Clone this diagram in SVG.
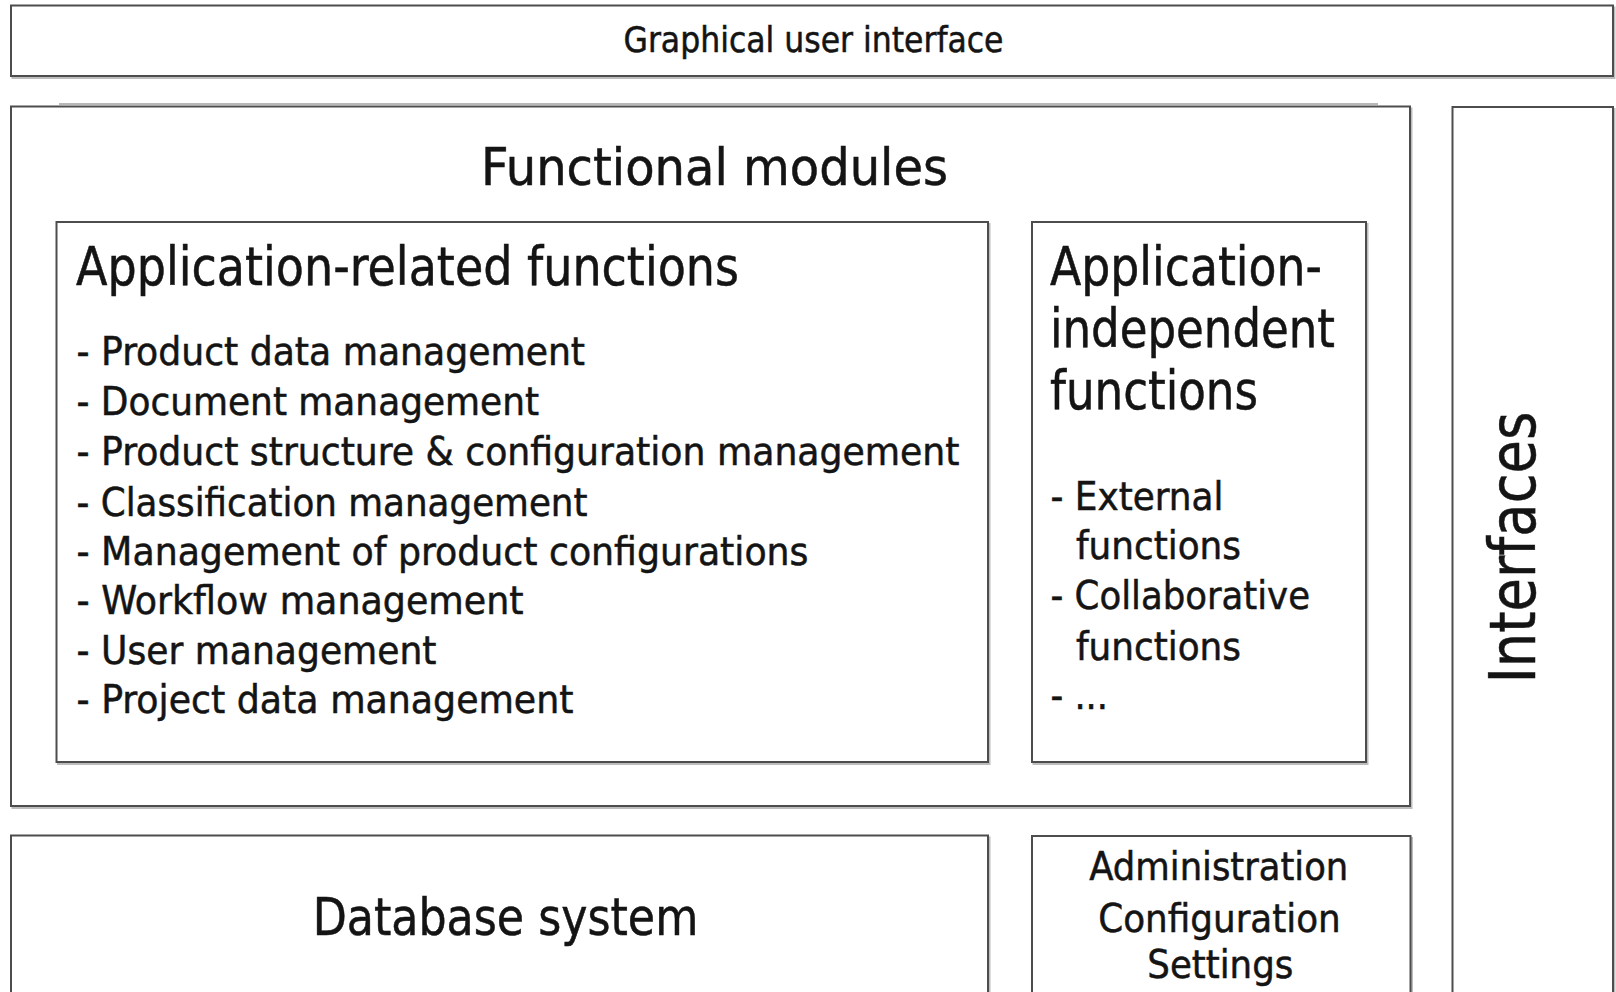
<svg xmlns="http://www.w3.org/2000/svg" width="1616" height="992" viewBox="0 0 1616 992">
  <style>
    .box { fill: #ffffff; stroke: #4d4d4d; stroke-width: 2; }
    .shadow { fill: none; stroke: #bdbdbd; stroke-width: 2; }
    text { font-family: "DejaVu Sans Condensed", "DejaVu Sans", "Liberation Sans", sans-serif; font-stretch: condensed; fill: #141414; stroke: #141414; stroke-width: 0.5; }
    .t-gui { font-size: 36px; }
    .t-head { font-size: 53px; }
    .t-big { font-size: 52px; }
    .t-item { font-size: 39px; }
    .t-side { font-size: 64px; }
  </style>
  <rect width="1616" height="992" fill="#ffffff"/>

  <!-- top layer: graphical user interface -->
  <g id="gui">
    <rect class="shadow" x="12.5" y="7.5" width="1602" height="70.5"/>
    <rect class="box" x="11" y="5.5" width="1602" height="70.5"/>
    <text class="t-gui" x="623.5" y="51.5" textLength="380" lengthAdjust="spacingAndGlyphs">Graphical user interface</text>
  </g>

  <!-- functional modules container -->
  <g id="functional-modules">
    <line x1="59" y1="104" x2="1378" y2="104" stroke="#a0a0a0" stroke-width="1.5"/>
    <rect class="shadow" x="12.5" y="108.5" width="1399" height="699.5"/>
    <rect class="box" x="11" y="106.5" width="1399" height="699.5"/>
    <text class="t-big" x="481" y="185" textLength="467" lengthAdjust="spacingAndGlyphs" font-size="55">Functional modules</text>
  </g>

  <g id="application-related">
    <rect class="shadow" x="58" y="224" width="931.5" height="540"/>
    <rect class="box" x="56.5" y="222" width="931.5" height="540"/>
    <text class="t-head" x="76" y="285" textLength="663" lengthAdjust="spacingAndGlyphs">Application-related functions</text>
    <text class="t-item" x="76.5" y="365" textLength="508.5" lengthAdjust="spacingAndGlyphs">- Product data management</text>
    <text class="t-item" x="76.5" y="415" textLength="462.5" lengthAdjust="spacingAndGlyphs">- Document management</text>
    <text class="t-item" x="76.5" y="464.5" textLength="883" lengthAdjust="spacingAndGlyphs">- Product structure &amp; configuration management</text>
    <text class="t-item" x="76.5" y="515.5" textLength="511" lengthAdjust="spacingAndGlyphs">- Classification management</text>
    <text class="t-item" x="76.5" y="565" textLength="732" lengthAdjust="spacingAndGlyphs">- Management of product configurations</text>
    <text class="t-item" x="76.5" y="614" textLength="447" lengthAdjust="spacingAndGlyphs">- Workflow management</text>
    <text class="t-item" x="76.5" y="663.5" textLength="360" lengthAdjust="spacingAndGlyphs">- User management</text>
    <text class="t-item" x="76.5" y="712.5" textLength="497" lengthAdjust="spacingAndGlyphs">- Project data management</text>
  </g>

  <g id="application-independent">
    <rect class="shadow" x="1033.5" y="224" width="334" height="540"/>
    <rect class="box" x="1032" y="222" width="334" height="540"/>
    <text class="t-head" x="1050" y="285" textLength="272" lengthAdjust="spacingAndGlyphs">Application-</text>
    <text class="t-head" x="1050" y="346.5" textLength="285" lengthAdjust="spacingAndGlyphs">independent</text>
    <text class="t-head" x="1050" y="408.5" textLength="208" lengthAdjust="spacingAndGlyphs">functions</text>
    <text class="t-item" x="1050.5" y="510" textLength="173" lengthAdjust="spacingAndGlyphs">- External</text>
    <text class="t-item" x="1076" y="558.5" textLength="165" lengthAdjust="spacingAndGlyphs">functions</text>
    <text class="t-item" x="1050.5" y="608.5" textLength="259.5" lengthAdjust="spacingAndGlyphs">- Collaborative</text>
    <text class="t-item" x="1076" y="660" textLength="165" lengthAdjust="spacingAndGlyphs">functions</text>
    <text class="t-item" x="1050.5" y="708.5" textLength="57.5" lengthAdjust="spacingAndGlyphs">- ...</text>
  </g>

  <!-- vertical interfaces column -->
  <g id="interfaces">
    <rect class="shadow" x="1454" y="109" width="160.5" height="900"/>
    <rect class="box" x="1452.5" y="107" width="160.5" height="900"/>
    <text class="t-side" transform="translate(1535,547.5) rotate(-90)" x="0" y="0" text-anchor="middle" textLength="271.5" lengthAdjust="spacingAndGlyphs">Interfaces</text>
  </g>

  <!-- bottom layer -->
  <g id="database">
    <rect class="shadow" x="12.5" y="837.5" width="977" height="200"/>
    <rect class="box" x="11" y="835.5" width="977" height="200"/>
    <text class="t-big" x="312.7" y="935" textLength="385.6" lengthAdjust="spacingAndGlyphs">Database system</text>
  </g>

  <g id="administration">
    <rect class="shadow" x="1033.5" y="838" width="378.5" height="200"/>
    <rect class="box" x="1032" y="836" width="378.5" height="200"/>
    <text class="t-item" x="1089.3" y="880" textLength="259" lengthAdjust="spacingAndGlyphs">Administration</text>
    <text class="t-item" x="1098.3" y="931.7" textLength="242.4" lengthAdjust="spacingAndGlyphs">Configuration</text>
    <text class="t-item" x="1147.3" y="978.3" textLength="146" lengthAdjust="spacingAndGlyphs">Settings</text>
  </g>

  <!-- no connectors are drawn between the layers -->
  <g id="connectors"/>
</svg>
